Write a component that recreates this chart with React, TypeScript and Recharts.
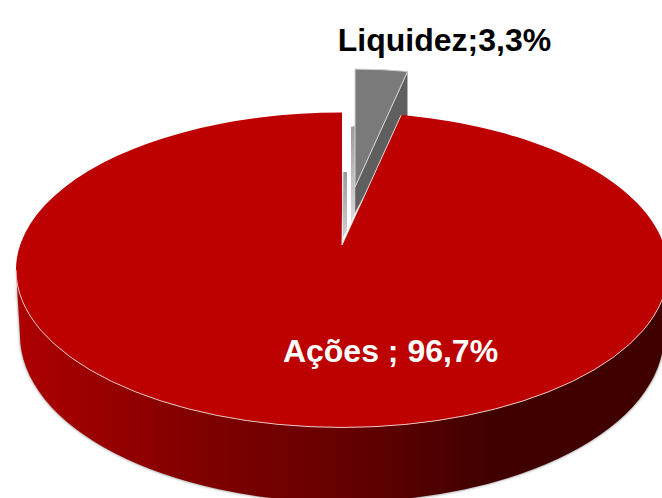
import React from "react";
import { PieChart, Pie } from "recharts";

const categories = ["Liquidez", "Ações"];
const shares = [3.3, 96.7];
const labels = ["Liquidez;3,3%", "Ações ; 96,7%"];

const data = categories.map((name, i) => ({ name, value: shares[i] }));

// how the flat pie is tilted into the 3D look
const FLATTEN = 157.5 / 326;
const APEX_RISE = 25;
const WALL_DROP = 65;
const WALL_INSET = 4;
const WALL_RY = 167;

// the far side of the pie looks narrower, so small angles from the top get squeezed
const warp = (t: number) => (t < 30 ? t * (0.8 + t / 150) : t);

const ellipsePoint = (cx: number, cy: number, rx: number, ry: number, angle: number) => {
  const t = warp(90 - angle);
  const rad = ((90 - t) * Math.PI) / 180;
  return { x: cx + rx * Math.cos(rad), y: cy - ry * Math.sin(rad) };
};

const RedSlice = ({ cx, cy, outerRadius, startAngle, endAngle }: any) => {
  const rx = outerRadius;
  const ry = outerRadius * FLATTEN;
  const apexY = cy - APEX_RISE;
  const a = ellipsePoint(cx, cy, rx, ry, startAngle);
  const b = ellipsePoint(cx, cy, rx, ry, endAngle);

  // front wall between the top ellipse and the lower one
  const lowRx = rx - WALL_INSET;
  const lowCy = cy + WALL_DROP;
  const wall =
    `M ${cx - rx} ${cy} A ${rx} ${ry} 0 0 0 ${cx + rx} ${cy} ` +
    `L ${cx + lowRx} ${lowCy} A ${lowRx} ${WALL_RY} 0 0 1 ${cx - lowRx} ${lowCy} Z`;

  return (
    <g>
      <path d={wall} fill="#6e6e6e" filter="url(#wallShadow)" />
      <path d={wall} fill="url(#wallShade)" />
      {/* inner face seen through the gap */}
      <path
        d={`M ${cx + 1} ${apexY - 8} L ${cx + 1} ${apexY - 73} L ${cx + 5} ${apexY - 73} L ${cx + 5} ${apexY - 15} Z`}
        fill="url(#innerFace)"
      />
      <path
        d={`M ${cx} ${apexY} L ${a.x} ${a.y} A ${rx} ${ry} 0 1 1 ${b.x} ${b.y} Z`}
        fill="#bd0000"
      />
      <path
        d={`M ${cx - rx} ${cy} A ${rx} ${ry} 0 0 0 ${cx + rx} ${cy}`}
        fill="none"
        stroke="#e9c4c4"
        strokeWidth={1}
      />
      <path
        d={`M ${cx + 1} ${apexY - 73} L ${cx} ${apexY} L ${a.x} ${a.y}`}
        fill="none"
        stroke="#dcdcdc"
        strokeWidth={1}
      />
    </g>
  );
};

// pulled out of the pie and a bit smaller because it sits further away
const GreySlice = ({ cx, cy, outerRadius, startAngle, endAngle }: any) => {
  const rx = outerRadius;
  const ry = outerRadius * FLATTEN;
  const scale = 0.89;
  const apex = { x: cx + 13, y: cy - 83 };
  const far = ellipsePoint(cx, cy, rx, ry, endAngle);
  const near = ellipsePoint(cx, cy, rx, ry, startAngle);
  const fromApex = (p: { x: number; y: number }) => ({
    x: apex.x + (p.x - cx) * scale,
    y: apex.y + (p.y - (cy - APEX_RISE)) * scale,
  });
  const tipL = fromApex(near);
  const tipR = fromApex(far);

  return (
    <g>
      <path
        d={`M ${apex.x - 4} ${apex.y + 35} L ${apex.x - 4} ${apex.y - 60} L ${apex.x} ${apex.y - 61} L ${apex.x} ${apex.y + 26} Z`}
        fill="url(#outerFace)"
      />
      <path
        d={`M ${apex.x} ${apex.y} L ${tipR.x} ${tipR.y} L ${tipR.x} ${tipR.y + 44} L ${apex.x} ${apex.y + 26} Z`}
        fill="#5f5f5f"
        stroke="#c8c8c8"
        strokeWidth={0.6}
      />
      <path
        d={`M ${apex.x} ${apex.y} L ${tipL.x} ${tipL.y} A ${rx * scale} ${ry * scale} 0 0 1 ${tipR.x} ${tipR.y} Z`}
        fill="#7a7a7a"
        stroke="#d2d2d2"
        strokeWidth={1}
      />
    </g>
  );
};

const renderSlice = (props: any) =>
  props.name === categories[0] ? <GreySlice {...props} /> : <RedSlice {...props} />;

const labelSpots = [
  { x: 444.5, y: 51, fill: "#000000" },
  { x: 390.5, y: 362, fill: "#ffffff" },
];

const renderLabel = ({ index }: any) => {
  const spot = labelSpots[index];
  return (
    <text
      x={spot.x}
      y={spot.y}
      textAnchor="middle"
      fill={spot.fill}
      fontFamily="'Liberation Sans', Arial, sans-serif"
      fontWeight="bold"
      fontSize={32}
    >
      {labels[index]}
    </text>
  );
};

export default function App() {
  return (
    <div style={{ position: "absolute", left: 0, top: 0, width: 662, height: 498, overflow: "hidden", background: "#fff" }}>
      <PieChart width={662} height={498} margin={{ top: 0, right: 0, bottom: 0, left: 0 }}>
        <defs>
          <linearGradient id="wallShade" x1="0" y1="0" x2="1" y2="0">
            <stop offset="0%" stopColor="#ae0000" />
            <stop offset="28%" stopColor="#800000" />
            <stop offset="51%" stopColor="#640000" />
            <stop offset="73%" stopColor="#400000" />
            <stop offset="100%" stopColor="#400000" />
          </linearGradient>
          <linearGradient id="innerFace" x1="0" y1="0" x2="0" y2="1">
            <stop offset="0%" stopColor="#9a9a9a" />
            <stop offset="100%" stopColor="#d0d0d0" />
          </linearGradient>
          <linearGradient id="outerFace" x1="0" y1="0" x2="0" y2="1">
            <stop offset="0%" stopColor="#9c9c9c" />
            <stop offset="100%" stopColor="#dcdcdc" />
          </linearGradient>
          <filter id="wallShadow" x="-5%" y="-5%" width="110%" height="110%">
            <feGaussianBlur stdDeviation="1.5" />
          </filter>
        </defs>
        <Pie
          data={data}
          dataKey="value"
          nameKey="name"
          cx={342}
          cy={270}
          innerRadius={0}
          outerRadius={326}
          startAngle={90}
          endAngle={-270}
          stroke="none"
          shape={renderSlice}
          label={renderLabel}
          labelLine={false}
          isAnimationActive={false}
        />
      </PieChart>
    </div>
  );
}
